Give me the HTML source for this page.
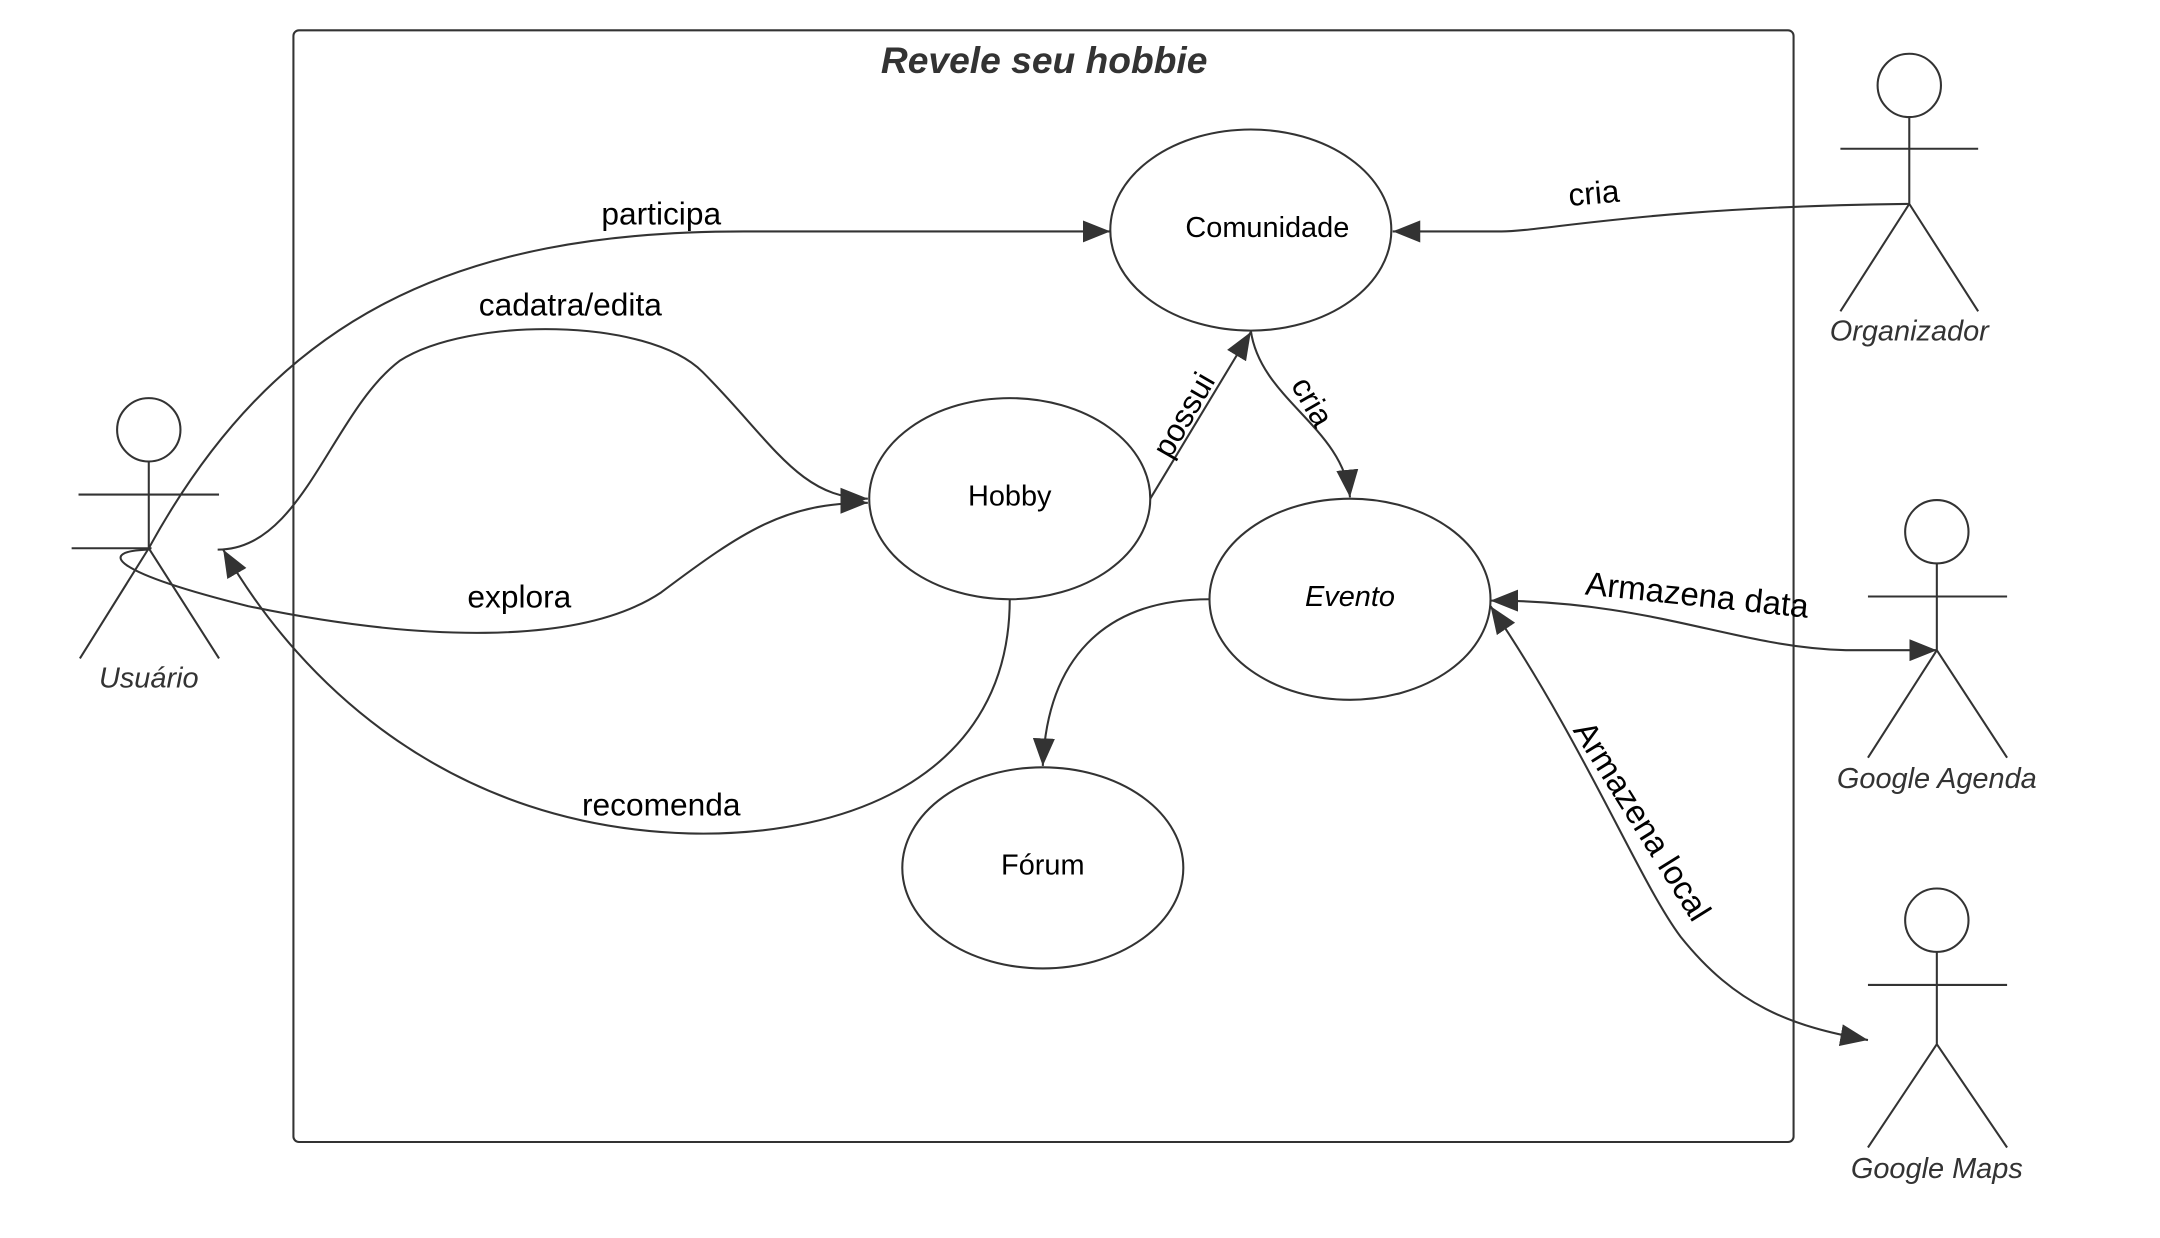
<!DOCTYPE html>
<html><head><meta charset="utf-8"><style>
html,body{margin:0;padding:0;background:#fff;}
svg{display:block;}
text{font-family:"Liberation Sans",sans-serif;}
</style></head><body>
<svg width="2160" height="1238" viewBox="0 0 1568 898.7" xmlns="http://www.w3.org/2000/svg">
<defs>
<marker id="a" viewBox="0 0 20 16" refX="20" refY="8" markerWidth="20" markerHeight="16" markerUnits="userSpaceOnUse" orient="auto-start-reverse">
<path d="M0,0 L20,8 L0,16 Z" fill="#333"/>
</marker>
</defs>
<g fill="none" stroke="#333" stroke-width="1.5">
<rect x="213" y="22" width="1089" height="807" rx="4"/>
<ellipse cx="908" cy="167" rx="102" ry="73"/>
<ellipse cx="733" cy="362" rx="102" ry="73"/>
<ellipse cx="980" cy="435" rx="102" ry="73"/>
<ellipse cx="757" cy="630" rx="102" ry="73"/>
<circle cx="108" cy="312" r="23"/>
<path d="M108,335 V398 M57,359 H159 M52,398 H110 M108,398 L58,478 M108,398 L159,478"/>
<circle cx="1386" cy="62" r="23"/>
<path d="M1386,85 V148 M1336,108 H1436 M1386,148 L1336,226 M1386,148 L1436,226"/>
<circle cx="1406" cy="386" r="23"/>
<path d="M1406,409 V472 M1356,433 H1457 M1406,472 L1356,550 M1406,472 L1457,550"/>
<circle cx="1406" cy="668" r="23"/>
<path d="M1406,691 V758 M1356,715 H1457 M1406,758 L1356,833 M1406,758 L1457,833"/>
<path d="M108,398 C200,230 330,168 540,168 L806,168" marker-end="url(#a)"/>
<path d="M158,399 C220,399 240,300 290,262 C340,230 470,230 510,270 C560,320 580,362 630,362" marker-end="url(#a)"/>
<path d="M108,399 C70,400 80,415 180,440 C300,465 420,470 480,430 C540,385 570,365 630,365" marker-end="url(#a)"/>
<path d="M733,435 C733,560 620,608 500,605 C330,600 220,500 162,399" marker-end="url(#a)"/>
<path d="M835,362 L908,241" marker-end="url(#a)"/>
<path d="M908,240 C915,290 975,310 980,361" marker-end="url(#a)"/>
<path d="M878,435 C800,435 760,480 757,556" marker-end="url(#a)"/>
<path d="M1386,148 C1200,150 1120,168 1090,168 L1011,168" marker-end="url(#a)"/>
<path d="M1082,436 C1200,436 1260,470 1340,472 L1406,472" marker-start="url(#a)" marker-end="url(#a)"/>
<path d="M1082,440 C1150,540 1190,640 1220,680 C1260,730 1300,745 1356,755" marker-start="url(#a)" marker-end="url(#a)"/>
</g>
<g fill="#000" font-size="23" text-anchor="middle">
<text x="758" y="53" font-size="27" font-weight="bold" font-style="italic" fill="#333">Revele seu hobbie</text>
<text x="920" y="172" font-size="21">Comunidade</text>
<text x="733" y="367" font-size="21">Hobby</text>
<text x="980" y="440" font-size="21" font-style="italic">Evento</text>
<text x="757" y="635" font-size="21">Fórum</text>
<text x="480" y="163">participa</text>
<text x="414" y="229">cadatra/edita</text>
<text x="377" y="441">explora</text>
<text x="480" y="592">recomenda</text>
<text x="1157" y="148" transform="rotate(-5 1157 140)">cria</text>
<text x="862" y="312" transform="rotate(-60 858 305)">possui</text>
<text x="952" y="299" transform="rotate(60 952 292)">cria</text>
<text x="1232" y="440" transform="rotate(6 1232 432)" font-size="24">Armazena data</text>
<text x="1192" y="604" transform="rotate(58 1192 596)" font-size="24">Armazena local</text>
</g>
<g fill="#333" font-size="21" font-style="italic" text-anchor="middle">
<text x="108" y="499">Usuário</text>
<text x="1386" y="247">Organizador</text>
<text x="1406" y="572">Google Agenda</text>
<text x="1406" y="855">Google Maps</text>
</g>
</svg>
</body></html>
